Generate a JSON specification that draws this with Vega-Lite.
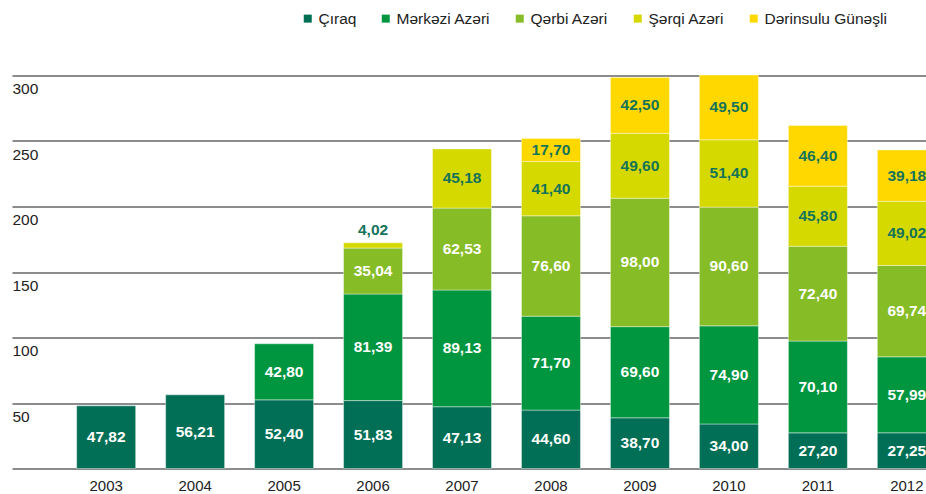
{
  "$schema": "https://vega.github.io/schema/vega-lite/v6.json",
  "autosize": {"type": "none"},
  "width": 989,
  "height": 393,
  "padding": {"left": 12, "top": 75.5, "right": 0, "bottom": 25.5},
  "config": {
    "font": "Liberation Sans",
    "view": {"stroke": null},
    "locale": {"number": {"decimal": ",", "thousands": ".", "grouping": [3], "currency": ["", ""]}}
  },
  "data": {
    "values": [
      {"year": "2003", "series": "Çıraq", "k": 1, "value": 47.82},
      {"year": "2004", "series": "Çıraq", "k": 1, "value": 56.21},
      {"year": "2005", "series": "Çıraq", "k": 1, "value": 52.40},
      {"year": "2005", "series": "Mərkəzi Azəri", "k": 2, "value": 42.80},
      {"year": "2006", "series": "Çıraq", "k": 1, "value": 51.83},
      {"year": "2006", "series": "Mərkəzi Azəri", "k": 2, "value": 81.39},
      {"year": "2006", "series": "Qərbi Azəri", "k": 3, "value": 35.04},
      {"year": "2006", "series": "Şərqi Azəri", "k": 4, "value": 4.02},
      {"year": "2007", "series": "Çıraq", "k": 1, "value": 47.13},
      {"year": "2007", "series": "Mərkəzi Azəri", "k": 2, "value": 89.13},
      {"year": "2007", "series": "Qərbi Azəri", "k": 3, "value": 62.53},
      {"year": "2007", "series": "Şərqi Azəri", "k": 4, "value": 45.18},
      {"year": "2008", "series": "Çıraq", "k": 1, "value": 44.60},
      {"year": "2008", "series": "Mərkəzi Azəri", "k": 2, "value": 71.70},
      {"year": "2008", "series": "Qərbi Azəri", "k": 3, "value": 76.60},
      {"year": "2008", "series": "Şərqi Azəri", "k": 4, "value": 41.40},
      {"year": "2008", "series": "Dərinsulu Günəşli", "k": 5, "value": 17.70},
      {"year": "2009", "series": "Çıraq", "k": 1, "value": 38.70},
      {"year": "2009", "series": "Mərkəzi Azəri", "k": 2, "value": 69.60},
      {"year": "2009", "series": "Qərbi Azəri", "k": 3, "value": 98.00},
      {"year": "2009", "series": "Şərqi Azəri", "k": 4, "value": 49.60},
      {"year": "2009", "series": "Dərinsulu Günəşli", "k": 5, "value": 42.50},
      {"year": "2010", "series": "Çıraq", "k": 1, "value": 34.00},
      {"year": "2010", "series": "Mərkəzi Azəri", "k": 2, "value": 74.90},
      {"year": "2010", "series": "Qərbi Azəri", "k": 3, "value": 90.60},
      {"year": "2010", "series": "Şərqi Azəri", "k": 4, "value": 51.40},
      {"year": "2010", "series": "Dərinsulu Günəşli", "k": 5, "value": 49.50},
      {"year": "2011", "series": "Çıraq", "k": 1, "value": 27.20},
      {"year": "2011", "series": "Mərkəzi Azəri", "k": 2, "value": 70.10},
      {"year": "2011", "series": "Qərbi Azəri", "k": 3, "value": 72.40},
      {"year": "2011", "series": "Şərqi Azəri", "k": 4, "value": 45.80},
      {"year": "2011", "series": "Dərinsulu Günəşli", "k": 5, "value": 46.40},
      {"year": "2012", "series": "Çıraq", "k": 1, "value": 27.25},
      {"year": "2012", "series": "Mərkəzi Azəri", "k": 2, "value": 57.99},
      {"year": "2012", "series": "Qərbi Azəri", "k": 3, "value": 69.74},
      {"year": "2012", "series": "Şərqi Azəri", "k": 4, "value": 49.02},
      {"year": "2012", "series": "Dərinsulu Günəşli", "k": 5, "value": 39.18}
    ]
  },
  "encoding": {
    "x": {
      "field": "year", "type": "ordinal",
      "scale": {"paddingInner": 0.337, "paddingOuter": 0.727},
      "axis": {"title": null, "domain": false, "ticks": false, "tickSize": 0, "labelPadding": 22, "labelBaseline": "alphabetic", "labelFontSize": 15, "labelColor": "#222222", "labelAngle": 0}
    }
  },
  "layer": [
    {
      "mark": {"type": "bar", "stroke": "#ffffff", "strokeWidth": 0.8, "strokeOpacity": 0.5},
      "encoding": {
        "y": {
          "field": "value", "type": "quantitative", "stack": "zero",
          "scale": {"domain": [0, 300], "nice": false},
          "axis": {
            "title": null, "domain": false, "ticks": false, "tickSize": 0,
            "values": [0, 50, 100, 150, 200, 250, 300],
            "labelExpr": "datum.value == 0 ? '' : datum.label",
            "labelAlign": "left", "labelBaseline": "top", "labelPadding": 0, "labelOffset": 6,
            "labelFontSize": 15.5, "labelColor": "#222222",
            "grid": true, "gridColor": "#666666", "gridWidth": 1.3
          }
        },
        "color": {
          "field": "series", "type": "nominal",
          "scale": {
            "domain": ["Çıraq", "Mərkəzi Azəri", "Qərbi Azəri", "Şərqi Azəri", "Dərinsulu Günəşli"],
            "range": ["#006F55", "#00963F", "#86BC25", "#D5D900", "#FFD800"]
          },
          "legend": {
            "title": null, "orient": "none", "direction": "horizontal",
            "legendX": 288, "legendY": -65, "padding": 0,
            "symbolType": "square", "symbolSize": 64, "symbolStrokeWidth": 0,
            "labelFontSize": 15.5, "labelColor": "#222222", "labelOffset": 3,
            "columnPadding": 21
          }
        },
        "order": {"field": "k", "type": "quantitative"}
      }
    },
    {
      "transform": [
        {"stack": "value", "groupby": ["year"], "sort": [{"field": "k", "order": "ascending"}], "as": ["v0", "v1"]},
        {"filter": "datum.value >= 10"},
        {"fold": ["v0", "v1"], "as": ["edge", "pos"]},
        {"aggregate": [{"op": "mean", "field": "pos", "as": "mid"}], "groupby": ["year", "series", "k", "value"]}
      ],
      "mark": {"type": "text", "fontWeight": "bold", "fontSize": 15.5, "baseline": "middle", "align": "center"},
      "encoding": {
        "y": {"field": "mid", "type": "quantitative"},
        "text": {"field": "value", "type": "quantitative", "format": ".2f"},
        "color": {
          "condition": {"test": "datum.k >= 4", "value": "#14735A"},
          "value": "#ffffff"
        }
      }
    },
    {
      "transform": [
        {"stack": "value", "groupby": ["year"], "sort": [{"field": "k", "order": "ascending"}], "as": ["v0", "v1"]},
        {"filter": "datum.value < 10"}
      ],
      "mark": {"type": "text", "fontWeight": "bold", "fontSize": 15.5, "baseline": "bottom", "align": "center", "dy": -5, "color": "#14735A"},
      "encoding": {
        "y": {"field": "v1", "type": "quantitative"},
        "text": {"field": "value", "type": "quantitative", "format": ".2f"}
      }
    }
  ]
}
